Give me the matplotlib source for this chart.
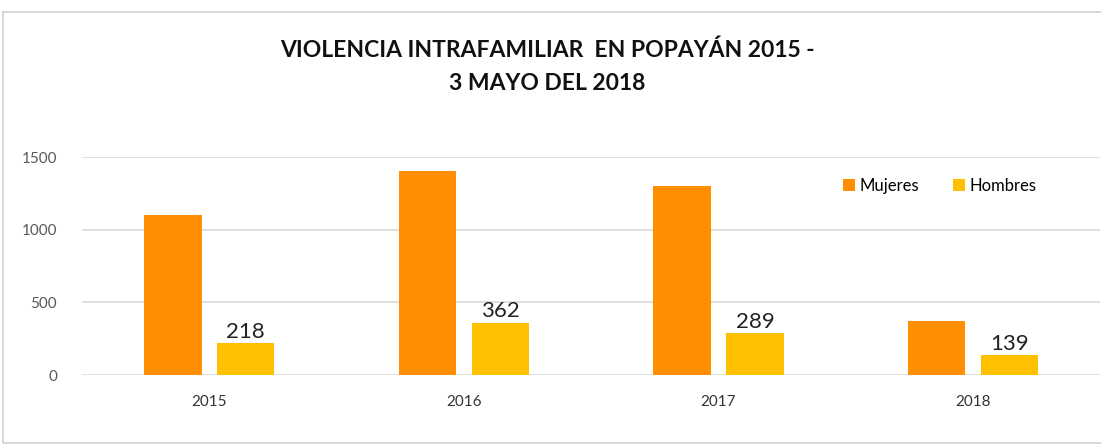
import numpy as np
import matplotlib
matplotlib.use('Agg')
from matplotlib import pyplot as plt
from matplotlib.patches import Rectangle

years = ['2015', '2016', '2017', '2018']
mujeres = [1103, 1405, 1302, 372]
hombres = [218, 362, 289, 139]

ORANGE = '#FF8F00'
YELLOW = '#FFC000'

plt.rcParams['font.family'] = ['Lato', 'DejaVu Sans']

fig = plt.figure(figsize=(11.01, 4.45), dpi=100)
ax = fig.add_axes([0.0745, 0.157, 0.925, 0.49])

x = np.arange(len(years))
w = 0.225
off = 0.143
ax.bar(x - off, mujeres, w, color=ORANGE, label='Mujeres', zorder=3)
b2 = ax.bar(x + off, hombres, w, color=YELLOW, label='Hombres', zorder=3)
ax.bar_label(b2, labels=[str(v) for v in hombres], padding=1, fontsize=16, color='#222222')

ax.set_xlim(-0.5, 3.5)
ax.set_ylim(0, 1500)
ax.set_yticks([0, 500, 1000, 1500])
ax.set_xticks(x)
ax.set_xticklabels(years, fontsize=11, color='#333333')
ax.tick_params(axis='y', labelsize=11, labelcolor='#595959', length=0, pad=18)
ax.tick_params(axis='x', length=0, pad=14)
ax.grid(axis='y', color='#D9D9D9', linewidth=1.2, zorder=0)
for s in ax.spines.values():
    s.set_visible(False)

ax.legend(loc='upper right', bbox_to_anchor=(0.952, 0.975), ncol=2, frameon=False,
          fontsize=12, handlelength=0.7, handleheight=0.7, handletextpad=0.3,
          columnspacing=2.0)

fig.text(0.497, 0.888, 'VIOLENCIA INTRAFAMILIAR  EN POPAYÁN 2015 -', ha='center', va='center',
         fontsize=16.5, fontweight='bold', color='#111111')
fig.text(0.497, 0.813, '3 MAYO DEL 2018', ha='center', va='center',
         fontsize=16.5, fontweight='bold', color='#111111')

# outer chart frame
fig.patches.append(Rectangle((0.003, 0.005), 1.2, 0.968, transform=fig.transFigure,
                             fill=False, edgecolor='#D0D0D0', linewidth=1.2))

fig.savefig('out.png', dpi=100)
